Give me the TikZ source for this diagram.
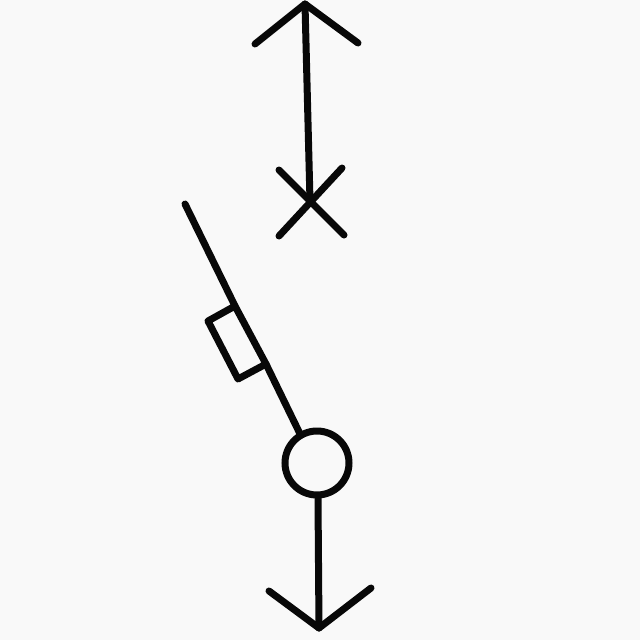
\documentclass[tikz,border=0pt]{standalone}
\definecolor{paper}{gray}{0.975}
\definecolor{ink}{gray}{0.03}
\tikzset{sym/.style={line width=7pt,line cap=round,line join=round,draw=ink}}
\begin{document}
\begin{tikzpicture}[x=1pt,y=-1pt]
\fill[paper] (0,0) rectangle (640,640);
\useasboundingbox (0,0) rectangle (640,640);
\coordinate (top) at (305,4);
\coordinate (al) at (255,44);
\coordinate (ar) at (358,43);
\coordinate (x) at (310,201);
\coordinate (sw) at (185,204);
\coordinate (rs) at (235,306);
\coordinate (re) at (266,364);
\node[circle,draw=ink,line width=7pt,minimum size=64pt,inner sep=0pt] (c) at (317,463) {};
\coordinate (bot) at (319,628);
\coordinate (bl) at (269,591);
\coordinate (br) at (371,588);
\draw[sym] (al) -- (top) -- (ar);
\draw[sym] (top) -- (x);
\draw[sym] (279,170) -- (344,235);
\draw[sym] (342,168) -- (279,236);
\draw[sym] (sw) -- (rs);
\draw[sym] (re) -- (c.120);
\draw[sym] (rs) -- (208,321) -- (238,379) -- (re) -- cycle;
\draw[sym] (318,498) -- (bot);
\draw[sym] (bl) -- (bot) -- (br);
\end{tikzpicture}
\end{document}
